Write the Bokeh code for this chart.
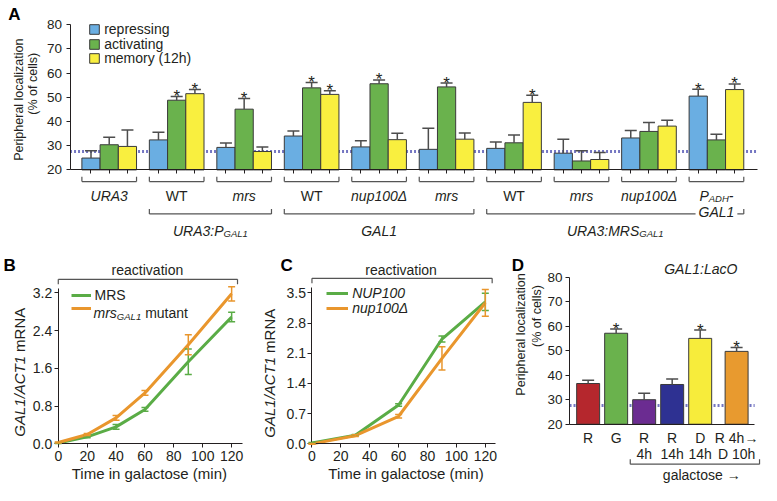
import math
from bokeh.plotting import figure
from bokeh.models import (Range1d, FixedTicker, Whisker, TeeHead, ColumnDataSource,
                          Legend, LegendItem, PrintfTickFormatter, CustomJSTickFormatter)
from bokeh.layouts import column, row
from bokeh.embed import file_html
from bokeh.resources import INLINE
from bokeh.core.properties import value

FONT = "Liberation Sans"
INK = "#231f20"

# ---------------- Panel A data ----------------
series_a = ["repressing", "activating", "memory (12h)"]
colors_a = ["#6aaee2", "#6ab24d", "#f9ef3f"]
repressing = [24.9, 32.4, 29.3, 34.0, 29.5, 28.5, 28.9, 26.9, 33.2, 50.5]
repressing_err = [3.0, 3.2, 1.8, 2.1, 2.5, 8.7, 2.6, 5.8, 3.1, 2.8]
repressing_sig = [0, 0, 0, 0, 0, 0, 0, 0, 0, 1]
activating = [30.4, 48.8, 45.1, 53.9, 55.6, 54.3, 31.2, 23.7, 35.9, 32.4]
activating_err = [3.1, 1.5, 4.4, 2.2, 1.6, 1.6, 3.2, 4.2, 3.7, 2.3]
activating_sig = [0, 1, 1, 1, 1, 1, 0, 0, 0, 0]
memory = [29.7, 51.5, 27.6, 51.2, 32.5, 32.7, 47.9, 24.3, 38.1, 53.2]
memory_err = [6.8, 1.7, 1.9, 1.5, 2.6, 2.6, 3.0, 2.9, 2.4, 2.3]
memory_sig = [0, 1, 0, 1, 0, 0, 1, 0, 0, 1]
baseline_a = 27.6
ticks_a = [20, 30, 40, 50, 60, 70, 80]
group_labels_a = [
    [("URA3", "italic", 0)], [("WT", "normal", 0)], [("mrs", "italic", 0)],
    [("WT", "normal", 0)], [("nup100Δ", "italic", 0)], [("mrs", "italic", 0)],
    [("WT", "normal", 0)], [("mrs", "italic", 0)], [("nup100Δ", "italic", 0)],
    [("P", "italic", 0), ("ADH", "italic", 1), ("-", "italic", 0)],
]
group_label2_a = {9: "GAL1"}
super_groups_a = [
    (1, 2, [("URA3:P", "italic", 0), ("GAL1", "italic", 1)]),
    (3, 5, [("GAL1", "italic", 0)]),
    (6, 9, [("URA3:MRS", "italic", 0), ("GAL1", "italic", 1)]),
]

# ---------------- Panel B data ----------------
time_b = [0, 20, 40, 60, 90, 120]
mrs_wt = [0.02, 0.15, 0.36, 0.73, 1.74, 2.69]
mrs_wt_err = [0.01, 0.02, 0.05, 0.04, 0.27, 0.10]
mrs_mut = [0.03, 0.20, 0.55, 1.08, 2.10, 3.18]
mrs_mut_err = [0.01, 0.02, 0.05, 0.05, 0.21, 0.15]
ticks_b = [0, 0.8, 1.6, 2.4, 3.2]

# ---------------- Panel C data ----------------
time_c = [0, 30, 60, 90, 120]
nup_wt = [0.02, 0.20, 0.90, 2.43, 3.29]
nup_wt_err = [0.01, 0.02, 0.03, 0.07, 0.20]
nup_del = [0.00, 0.19, 0.64, 1.98, 3.27]
nup_del_err = [0.01, 0.02, 0.04, 0.27, 0.31]
ticks_c = [0, 0.7, 1.4, 2.1, 2.8, 3.5]
time_ticks = [0, 20, 40, 60, 80, 100, 120]

# ---------------- Panel D data ----------------
cond_d_line1 = ["R", "G", "R", "R", "D", "R 4h→"]
cond_d_line2 = ["", "", "4h", "14h", "14h", "D 10h"]
pos_d = [0, 1, 2, 3, 4, 5.3]
pct_d = [36.6, 57.1, 30.0, 36.2, 55.0, 49.7]
pct_d_err = [1.3, 1.7, 2.6, 2.2, 3.4, 1.6]
sig_d = [0, 1, 0, 0, 1, 1]
colors_d = ["#b5272d", "#6ab24d", "#6b2c91", "#2e3192", "#f7ec3b", "#e89a2f"]
baseline_d = 27.6
ticks_d = [20, 30, 40, 50, 60, 70, 80]

GREEN = "#5aac46"
ORANGE = "#e9962d"
DOT = "#7476c2"
BRK = "#555555"

# ---------- layout helpers (reference pixel -> canvas) ----------
SX = 761 / 777.0
SY = 485 / 501.0


def gx(r):
    return r * SX


def gy(r):
    return r * SY


class Map:
    def __init__(self, ox, oy, w, h, xr1, xv1, xr2, xv2, yr1, yv1, yr2, yv2):
        self.ox, self.oy, self.w, self.h = ox, oy, w, h
        p1, p2 = gx(xr1) - ox, gx(xr2) - ox
        self.kx = (xv2 - xv1) / (p2 - p1)
        self.x0 = xv1 - p1 * self.kx
        q1, q2 = gy(yr1) - oy, gy(yr2) - oy
        self.ky = (yv2 - yv1) / (q2 - q1)
        self.y0 = yv1 - q1 * self.ky

    def x(self, r):
        return self.x0 + (gx(r) - self.ox) * self.kx

    def y(self, r):
        return self.y0 + (gy(r) - self.oy) * self.ky

    def xrange(self):
        return Range1d(self.x0, self.x0 + self.w * self.kx)

    def yrange(self):
        return Range1d(self.y0 + self.h * self.ky, self.y0)

    def loc(self, ref_left, ref_cy, item_h=18):
        return (gx(ref_left) - self.ox, self.h - (gy(ref_cy) - self.oy) - item_h / 2.0)


WID = {'U': 722, 'R': 722, 'A': 667, '3': 556, ':': 278, 'P': 667, 'G': 778, 'L': 556, '1': 556,
       'M': 833, 'S': 667, 'D': 722, 'H': 722, '-': 333, ' ': 278, 'm': 833, 'r': 333, 's': 500,
       'n': 556, 'u': 556, 'p': 556, '0': 556, 'Δ': 668, 'W': 944, 'T': 611, 'a': 556, 't': 278,
       'e': 556, 'C': 722, 'N': 722, 'i': 222, 'o': 556, 'c': 500, 'l': 222}


def tw(s, size):
    return sum(WID.get(c, 556) for c in s) * size / 1000.0


def txt(p, x, y, t, size="14px", style="normal", align="center", baseline="middle", angle=0.0,
        color=INK, x_offset=0, y_offset=0):
    p.text(x=[x], y=[y], text=[t], text_font=value(FONT), text_font_size=size,
           text_font_style=style, text_align=align, text_baseline=baseline, angle=angle,
           text_color=color, x_offset=x_offset, y_offset=y_offset)


def rich(p, x, y, pieces, size=14, sub_size=9.5):
    specs = [(t, st, sub_size if sub else size, 7.5 if sub else 5.0) for t, st, sub in pieces]
    total = sum(tw(t, s) for t, st, s, dy in specs)
    off = -total / 2.0
    for t, st, s, dy in specs:
        txt(p, x, y, t, size=f"{s}px", style=st, align="left", baseline="alphabetic",
            x_offset=off, y_offset=dy)
        off += tw(t, s)


def make_fig(m):
    p = figure(frame_width=int(m.w), frame_height=int(m.h), min_border=0,
               x_range=m.xrange(), y_range=m.yrange(),
               output_backend="svg", toolbar_location=None)
    p.xgrid.visible = False
    p.ygrid.visible = False
    p.outline_line_color = None
    p.background_fill_color = "white"
    p.border_fill_color = "white"
    for ax in list(p.xaxis) + list(p.yaxis):
        ax.axis_line_color = INK
        ax.axis_line_width = 1
        ax.major_tick_line_color = INK
        ax.minor_tick_line_color = None
        ax.major_tick_in = 0
        ax.major_tick_out = 4
        ax.major_label_text_font = FONT
        ax.major_label_text_font_size = "14px"
        ax.major_label_text_color = INK
        ax.major_label_standoff = 3
    return p


def letter(p, m, rx, ry, t):
    txt(p, m.x(rx), m.y(ry), t, size="17px", style="bold", align="left", baseline="top",
        color="black")


def stars(p, xs, tops, sig):
    sx = [x for x, s in zip(xs, sig) if s]
    sy = [t for t, s in zip(tops, sig) if s]
    if sx:
        p.text(x=sx, y=sy, text=["*"] * len(sx), text_font=value(FONT), text_font_size="17px",
               text_align="center", text_baseline="alphabetic", text_color=INK)


def bracket(p, x0, x1, yl, yt):
    p.segment(x0=[x0, x0, x1], y0=[yl, yl, yl], x1=[x1, x0, x1], y1=[yl, yt, yt],
              line_color=BRK, line_width=1.2)


def single_legend(p, r, label, loc, gw, style="normal"):
    p.add_layout(Legend(items=[LegendItem(label=label, renderers=[r])], location=loc,
                        padding=0, margin=0, spacing=0, glyph_width=gw, glyph_height=12,
                        label_height=18, label_standoff=4, label_text_font=FONT,
                        label_text_font_size="14px", label_text_font_style=style,
                        label_text_color=INK, background_fill_alpha=0, border_line_alpha=0))


def baseline(p, y, x0, x1):
    p.segment(x0=[x0], y0=[y], x1=[x1], y1=[y], line_color=DOT, line_width=3, line_dash="2 2")


# ================= Panel A =================
HA = round(gy(262))
mA = Map(0, 0, 761, HA, 111, 0, 731, 9, 175, 20, 25, 80)
pA = make_fig(mA)
baseline(pA, baseline_a, mA.x(71), mA.x(773))
BW = 0.27
offsets = [-BW, 0, BW]
vals_a = [repressing, activating, memory]
errs_a = [repressing_err, activating_err, memory_err]
sigs_a = [repressing_sig, activating_sig, memory_sig]
n_a = len(group_labels_a)
all_x = []
for k in range(3):
    xs = [i + offsets[k] for i in range(n_a)]
    all_x += xs
    ups = [v + e for v, e in zip(vals_a[k], errs_a[k])]
    src = ColumnDataSource(dict(x=xs, top=vals_a[k], upper=ups))
    r = pA.vbar(x="x", top="top", bottom=20, width=BW, fill_color=colors_a[k],
                line_color="#3a3a3a", line_width=1, source=src)
    pA.add_layout(Whisker(base="x", lower="top", upper="upper", source=src, dimension="height",
                          line_color="#4d4d4d", line_width=1.5, level="annotation",
                          upper_head=TeeHead(size=12, line_color="#4d4d4d", line_width=1.5),
                          lower_head=None))
    stars(pA, xs, ups, sigs_a[k])
    single_legend(pA, r, series_a[k], mA.loc(90, [30, 45, 60][k]), 12)

pA.xaxis.fixed_location = 20
pA.xaxis.bounds = (mA.x(71), mA.x(773))
pA.xaxis.ticker = FixedTicker(ticks=sorted(all_x))
pA.xaxis.formatter = CustomJSTickFormatter(code="return ''")
pA.yaxis.fixed_location = mA.x(71)
pA.yaxis.bounds = (20, 80)
pA.yaxis.ticker = FixedTicker(ticks=ticks_a)
pA.yaxis.major_label_text_font_size = "13.5px"
pA.yaxis.major_label_standoff = 4

half = 1.5 * BW
for i in range(n_a):
    bracket(pA, i - half, i + half, mA.y(187), mA.y(182))
for g0, g1, _ in super_groups_a:
    bracket(pA, g0 - half, g1 + half, mA.y(220.5), mA.y(215.5))
for i, pieces in enumerate(group_labels_a):
    rich(pA, i, mA.y(197), pieces)
for i, t in group_label2_a.items():
    pA.rect(x=[i], y=[mA.y(218)], width=tw(t, 14) + 6, height=10, width_units="screen",
            height_units="screen", fill_color="white", line_color=None)
    txt(pA, i, mA.y(218), t, style="italic")
for g0, g1, pieces in super_groups_a:
    rich(pA, (g0 + g1) / 2.0, mA.y(233), pieces)
letter(pA, mA, 8, 5, "A")
txt(pA, mA.x(19), mA.y(102.5), "Peripheral localization", size="12.5px", angle=math.pi / 2)
txt(pA, mA.x(33), mA.y(86), "(% of cells)", size="12.5px", angle=math.pi / 2)

# ================= Panels B, C =================
OY = HA
HB = 485 - HA
WB = round(gx(250))
WC = round(gx(520)) - WB
WD = 761 - WB - WC


def timecourse(m, ticks, bound_top, x_bound_ref, sets):
    p = make_fig(m)
    rends = []
    for tx, ys, es, col in sets:
        src = ColumnDataSource(dict(x=tx, y=ys, lo=[a - b for a, b in zip(ys, es)],
                                    hi=[a + b for a, b in zip(ys, es)]))
        rends.append(p.line(x="x", y="y", source=src, line_color=col, line_width=3))
        p.add_layout(Whisker(base="x", lower="lo", upper="hi", source=src, dimension="height",
                             line_color=col, line_width=1.5, level="annotation",
                             upper_head=TeeHead(size=7, line_color=col, line_width=1.5),
                             lower_head=TeeHead(size=7, line_color=col, line_width=1.5)))
    p.xaxis.fixed_location = 0
    p.xaxis.bounds = (0, m.x(x_bound_ref))
    p.xaxis.ticker = FixedTicker(ticks=time_ticks)
    p.yaxis.fixed_location = 0
    p.yaxis.ticker = FixedTicker(ticks=ticks)
    p.yaxis.formatter = PrintfTickFormatter(format="%.1f")
    p.yaxis.bounds = (0, bound_top)
    p.yaxis.major_label_standoff = 2
    return p, rends


def ylabel_mixed(p, m, rx, rcy):
    split_y = rcy + (tw("GAL1/ACT1 mRNA", 15) / 2.0 - tw("GAL1/ACT1", 15)) / SY
    txt(p, m.x(rx), m.y(split_y + 2), "GAL1/ACT1", size="15px", style="italic", align="right",
        angle=math.pi / 2)
    txt(p, m.x(rx), m.y(split_y - 2), "mRNA", size="15px", align="left", angle=math.pi / 2)


mB = Map(0, OY, WB, HB, 59, 0, 236, 120, 458, 0, 302, 3.2)
pB, rB = timecourse(mB, ticks_b, 3.3, 247,
                    [(time_b, mrs_wt, mrs_wt_err, GREEN), (time_b, mrs_mut, mrs_mut_err, ORANGE)])
bracket(pB, mB.x(59), mB.x(242), mB.y(288), mB.y(293))
txt(pB, mB.x(150), mB.y(278), "reactivation")
txt(pB, mB.x(152), mB.y(489), "Time in galactose (min)", size="15px")
ylabel_mixed(pB, mB, 19, 384)
letter(pB, mB, 3, 264, "B")
single_legend(pB, rB[0], "MRS", mB.loc(72, 305), 20)
single_legend(pB, rB[1], " ", mB.loc(72, 318), 20)
off = 0.0
for t, st, s, dy in [("mrs", "italic", 14, 5), ("GAL1", "italic", 9.5, 8), ("mutant", "normal", 14, 5)]:
    txt(pB, mB.x(95), mB.y(318), t, size=f"{s}px", style=st, align="left",
        baseline="alphabetic", x_offset=off, y_offset=dy)
    off += tw(t, s) + (4 if t == "GAL1" else 0)

mC = Map(WB, OY, WC, HB, 318, 0, 495, 120, 458, 0, 302, 3.5)
pC, rC = timecourse(mC, ticks_c, 3.62, 505,
                    [(time_c, nup_wt, nup_wt_err, GREEN), (time_c, nup_del, nup_del_err, ORANGE)])
bracket(pC, mC.x(318), mC.x(502), mC.y(287), mC.y(292))
txt(pC, mC.x(409), mC.y(278), "reactivation")
txt(pC, mC.x(414), mC.y(489), "Time in galactose (min)", size="15px")
ylabel_mixed(pC, mC, 275, 385)
letter(pC, mC, 286, 264, "C")
single_legend(pC, rC[0], "NUP100", mC.loc(333, 303), 22, "italic")
single_legend(pC, rC[1], "nup100Δ", mC.loc(333, 318), 22, "italic")

# ================= Panel D =================
mD = Map(WB + WC, OY, WD, HB, 600, 0, 714.4, 4, 437.7, 20, 285.7, 80)
pD = make_fig(mD)
baseline(pD, baseline_d, mD.x(581), mD.x(770))
ups_d = [v + e for v, e in zip(pct_d, pct_d_err)]
srcD = ColumnDataSource(dict(x=pos_d, top=pct_d, upper=ups_d, color=colors_d))
pD.vbar(x="x", top="top", bottom=20, width=0.82, fill_color="color", line_color="#3a3a3a",
        line_width=1, source=srcD)
pD.add_layout(Whisker(base="x", lower="top", upper="upper", source=srcD, dimension="height",
                      line_color="#4d4d4d", line_width=1.5, level="annotation",
                      upper_head=TeeHead(size=12, line_color="#4d4d4d", line_width=1.5),
                      lower_head=None))
stars(pD, pos_d, ups_d, sig_d)
pD.xaxis.fixed_location = 20
pD.xaxis.bounds = (mD.x(581), mD.x(770))
pD.xaxis.ticker = FixedTicker(ticks=[])
pD.xaxis.major_tick_out = 0
pD.xaxis.formatter = CustomJSTickFormatter(code="return ''")
pD.yaxis.fixed_location = mD.x(581)
pD.yaxis.bounds = (20, 80)
pD.yaxis.ticker = FixedTicker(ticks=ticks_d)
pD.yaxis.major_label_text_font_size = "13.5px"
pD.yaxis.major_label_standoff = 3
pD.text(x=pos_d, y=[mD.y(452)] * len(pos_d), text=cond_d_line1, text_font=value(FONT),
        text_font_size="14px", text_align="center", text_baseline="middle", text_color=INK)
pD.text(x=pos_d, y=[mD.y(468)] * len(pos_d), text=cond_d_line2, text_font=value(FONT),
        text_font_size="14px", text_align="center", text_baseline="middle", text_color=INK)
bracket(pD, mD.x(643), mD.x(775), mD.y(479), mD.y(474))
txt(pD, mD.x(716), mD.y(490.5), "galactose →")
txt(pD, mD.x(715), mD.y(277), "GAL1:LacO", style="italic")
txt(pD, mD.x(531.5), mD.y(345), "Peripheral localization", size="12.5px", angle=math.pi / 2)
txt(pD, mD.x(548), mD.y(326), "(% of cells)", size="12.5px", angle=math.pi / 2)
letter(pD, mD, 522, 264, "D")

layout = column(pA, row(pB, pC, pD))
open("out.html", "w").write(file_html(layout, INLINE))
